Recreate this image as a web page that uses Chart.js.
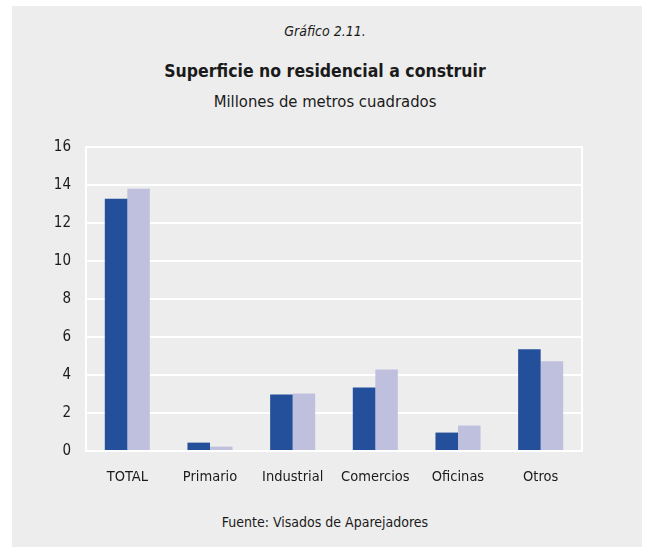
<!DOCTYPE html>
<html>
<head>
<meta charset="utf-8">
<script src="https://cdn.jsdelivr.net/npm/chart.js@4"></script>
<style>
  html, body { margin: 0; padding: 0; background: #fff; }
  #wrap { position: relative; width: 650px; height: 547px; overflow: hidden; }
  #panel { position: absolute; left: 12px; top: 6px; width: 630px; height: 541px; background: #ededed; }
  .txt { position: absolute; left: 0; width: 650px; text-align: center; color: #1a1a1a;
         font-family: 'Liberation Sans Narrow', 'DejaVu Sans Condensed', 'Arial Narrow', sans-serif; }
  #num { top: 23px; font-size: 14px; font-style: italic; }
  #title { top: 61px; font-size: 17.5px; font-weight: bold; }
  #sub { top: 92px; font-size: 16.5px; }
  #src { top: 514px; font-size: 14px; }
  canvas { position: absolute; left: 0; top: 0; }
</style>
</head>
<body>
<div id="wrap">
  <div id="panel"></div>
  <div class="txt" id="num">Gráfico 2.11.</div>
  <div class="txt" id="title">Superficie no residencial a construir</div>
  <div class="txt" id="sub">Millones de metros cuadrados</div>
  <div class="txt" id="src">Fuente: Visados de Aparejadores</div>
  <canvas id="chart" width="650" height="547"></canvas>
</div>
<script>
var categories = ['TOTAL', 'Primario', 'Industrial', 'Comercios', 'Oficinas', 'Otros'];
var serieA = [13.27, 0.44, 2.97, 3.34, 0.97, 5.35];
var serieB = [13.80, 0.23, 3.03, 4.29, 1.34, 4.72];
var yTicks = [0, 2, 4, 6, 8, 10, 12, 14, 16];

var fontFamily = "'Liberation Sans Narrow', 'DejaVu Sans Condensed', 'Arial Narrow', sans-serif";

// white frame around the plot area, under the bars
var frame = {
  id: 'frame',
  beforeDatasetsDraw: function(chart) {
    var a = chart.chartArea, c = chart.ctx;
    c.save();
    c.strokeStyle = '#ffffff';
    c.lineWidth = 2;
    c.strokeRect(a.left, a.top, a.right - a.left, a.bottom - a.top);
    c.restore();
  }
};

var ctx = document.getElementById('chart').getContext('2d');
var chart = new Chart(ctx, {
  type: 'bar',
  plugins: [frame],
  data: {
    labels: categories,
    datasets: [
      { data: serieA, backgroundColor: '#24509b' },
      { data: serieB, backgroundColor: '#bfc0de' }
    ]
  },
  options: {
    responsive: false,
    animation: false,
    layout: { padding: { left: 0, top: 147, right: 68, bottom: 0 } },
    plugins: { legend: { display: false }, tooltip: { enabled: false } },
    datasets: { bar: { categoryPercentage: 0.545, barPercentage: 1, borderWidth: 0 } },
    scales: {
      x: {
        grid: { display: false },
        border: { display: false },
        ticks: { color: '#1a1a1a', padding: 10, font: { family: fontFamily, size: 14.5 } },
        afterFit: function(s) { s.height = 96; }
      },
      y: {
        min: 0, max: 16,
        afterBuildTicks: function(s) { s.ticks = yTicks.map(function(v) { return { value: v }; }); },
        grid: { color: '#ffffff', lineWidth: 2, drawTicks: false },
        border: { display: false },
        ticks: { color: '#1a1a1a', padding: 15, font: { family: fontFamily, size: 15 } },
        afterFit: function(s) { s.width = 86; }
      }
    }
  }
});
</script>
</body>
</html>
